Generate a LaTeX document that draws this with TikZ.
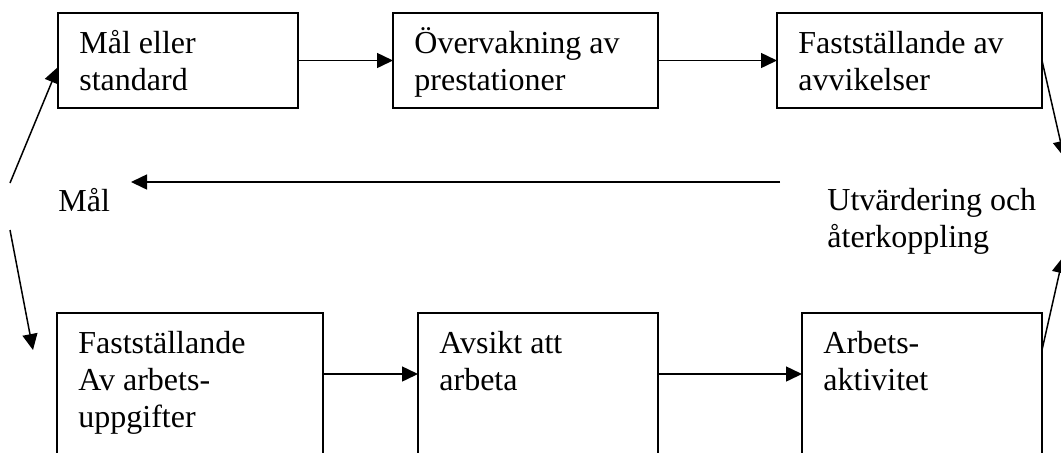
\documentclass[tikz,border=0pt]{standalone}
\usepackage{fontspec}
\setmainfont{Liberation Serif}
\usetikzlibrary{arrows.meta,calc}

% lines of a label, stacked; the baseline of the whole is that of the first line
\newcommand\stacklines[1]{\parbox[t]{150pt}{\raggedright #1}}

\begin{document}
\begin{tikzpicture}[
    x=0.5pt, y=-0.5pt,
    stepbox/.style={draw, line width=0.75pt, rectangle, anchor=north west,
      inner sep=0pt, outer sep=0pt},
    boxtext/.style={anchor=base west, inner sep=0pt,
      font=\fontsize{16}{18.6}\selectfont},
    flow/.style={line width=0.75pt, -{Triangle[length=8pt,width=7.5pt]}},
  ]
  \useasboundingbox (0,0) rectangle (1061,452);
  \clip (0,0) rectangle (1061,452);

  % upper row of steps
  \node[stepbox, minimum width=120pt,   minimum height=47.5pt] (b1) at (58,13)  {};
  \node[stepbox, minimum width=132.5pt, minimum height=47.5pt] (b2) at (393,13) {};
  \node[stepbox, minimum width=132.5pt, minimum height=47.5pt] (b3) at (777,13) {};

  % lower row of steps (open towards the bottom edge)
  \node[stepbox, minimum width=133pt, minimum height=82pt] (b4) at (57,313)  {};
  \node[stepbox, minimum width=120pt, minimum height=82pt] (b5) at (418,313) {};
  \node[stepbox, minimum width=120pt, minimum height=82pt] (b6) at (802,313) {};

  % texts inside the steps
  \node[boxtext] (t1) at ($(b1.north west)+(21,40)$) {\stacklines{Mål eller\\standard}};
  \node[boxtext] (t2) at ($(b2.north west)+(21,40)$) {\stacklines{Övervakning av\\prestationer}};
  \node[boxtext] (t3) at ($(b3.north west)+(21,40)$) {\stacklines{Fastställande av\\avvikelser}};
  \node[boxtext] (t4) at ($(b4.north west)+(21,40)$) {\stacklines{Fastställande\\Av arbets-\\uppgifter}};
  \node[boxtext] (t5) at ($(b5.north west)+(21,40)$) {\stacklines{Avsikt att\\arbeta}};
  \node[boxtext] (t6) at ($(b6.north west)+(21,40)$) {\stacklines{Arbets-\\aktivitet}};

  % free labels
  \node[boxtext] (mal) at (58,211) {Mål};
  \node[boxtext] (utv) at (827,210) {\stacklines{Utvärdering och\\återkoppling}};

  % free ends of the connectors
  \coordinate (lu) at (10,183);
  \coordinate (ll) at (10,230);
  \coordinate (lt) at (33,350);
  \coordinate (ru) at (1064,157);
  \coordinate (rl) at (1063,257);
  \coordinate (fbR) at (780,182);
  \coordinate (fbL) at (131,182);

  % upper flow
  \draw[flow] (b1.east) -- (b2.west);
  \draw[flow] (b2.east) -- (b3.west);
  \draw[flow] (b3.east) -- (ru);

  % lower flow
  \draw[flow] ($(b4.north east)+(0,61)$) -- ($(b5.north west)+(0,61)$);
  \draw[flow] ($(b5.north east)+(0,61)$) -- ($(b6.north west)+(0,61)$);
  \draw[flow] ($(b6.north east)+(0,37)$) -- (rl);

  % feedback and left branches
  \draw[flow] (fbR) -- (fbL);
  \draw[flow] (lu) -- ($(b1.south west)+(0,-41)$);
  \draw[flow] (ll) -- (lt);
\end{tikzpicture}
\end{document}
